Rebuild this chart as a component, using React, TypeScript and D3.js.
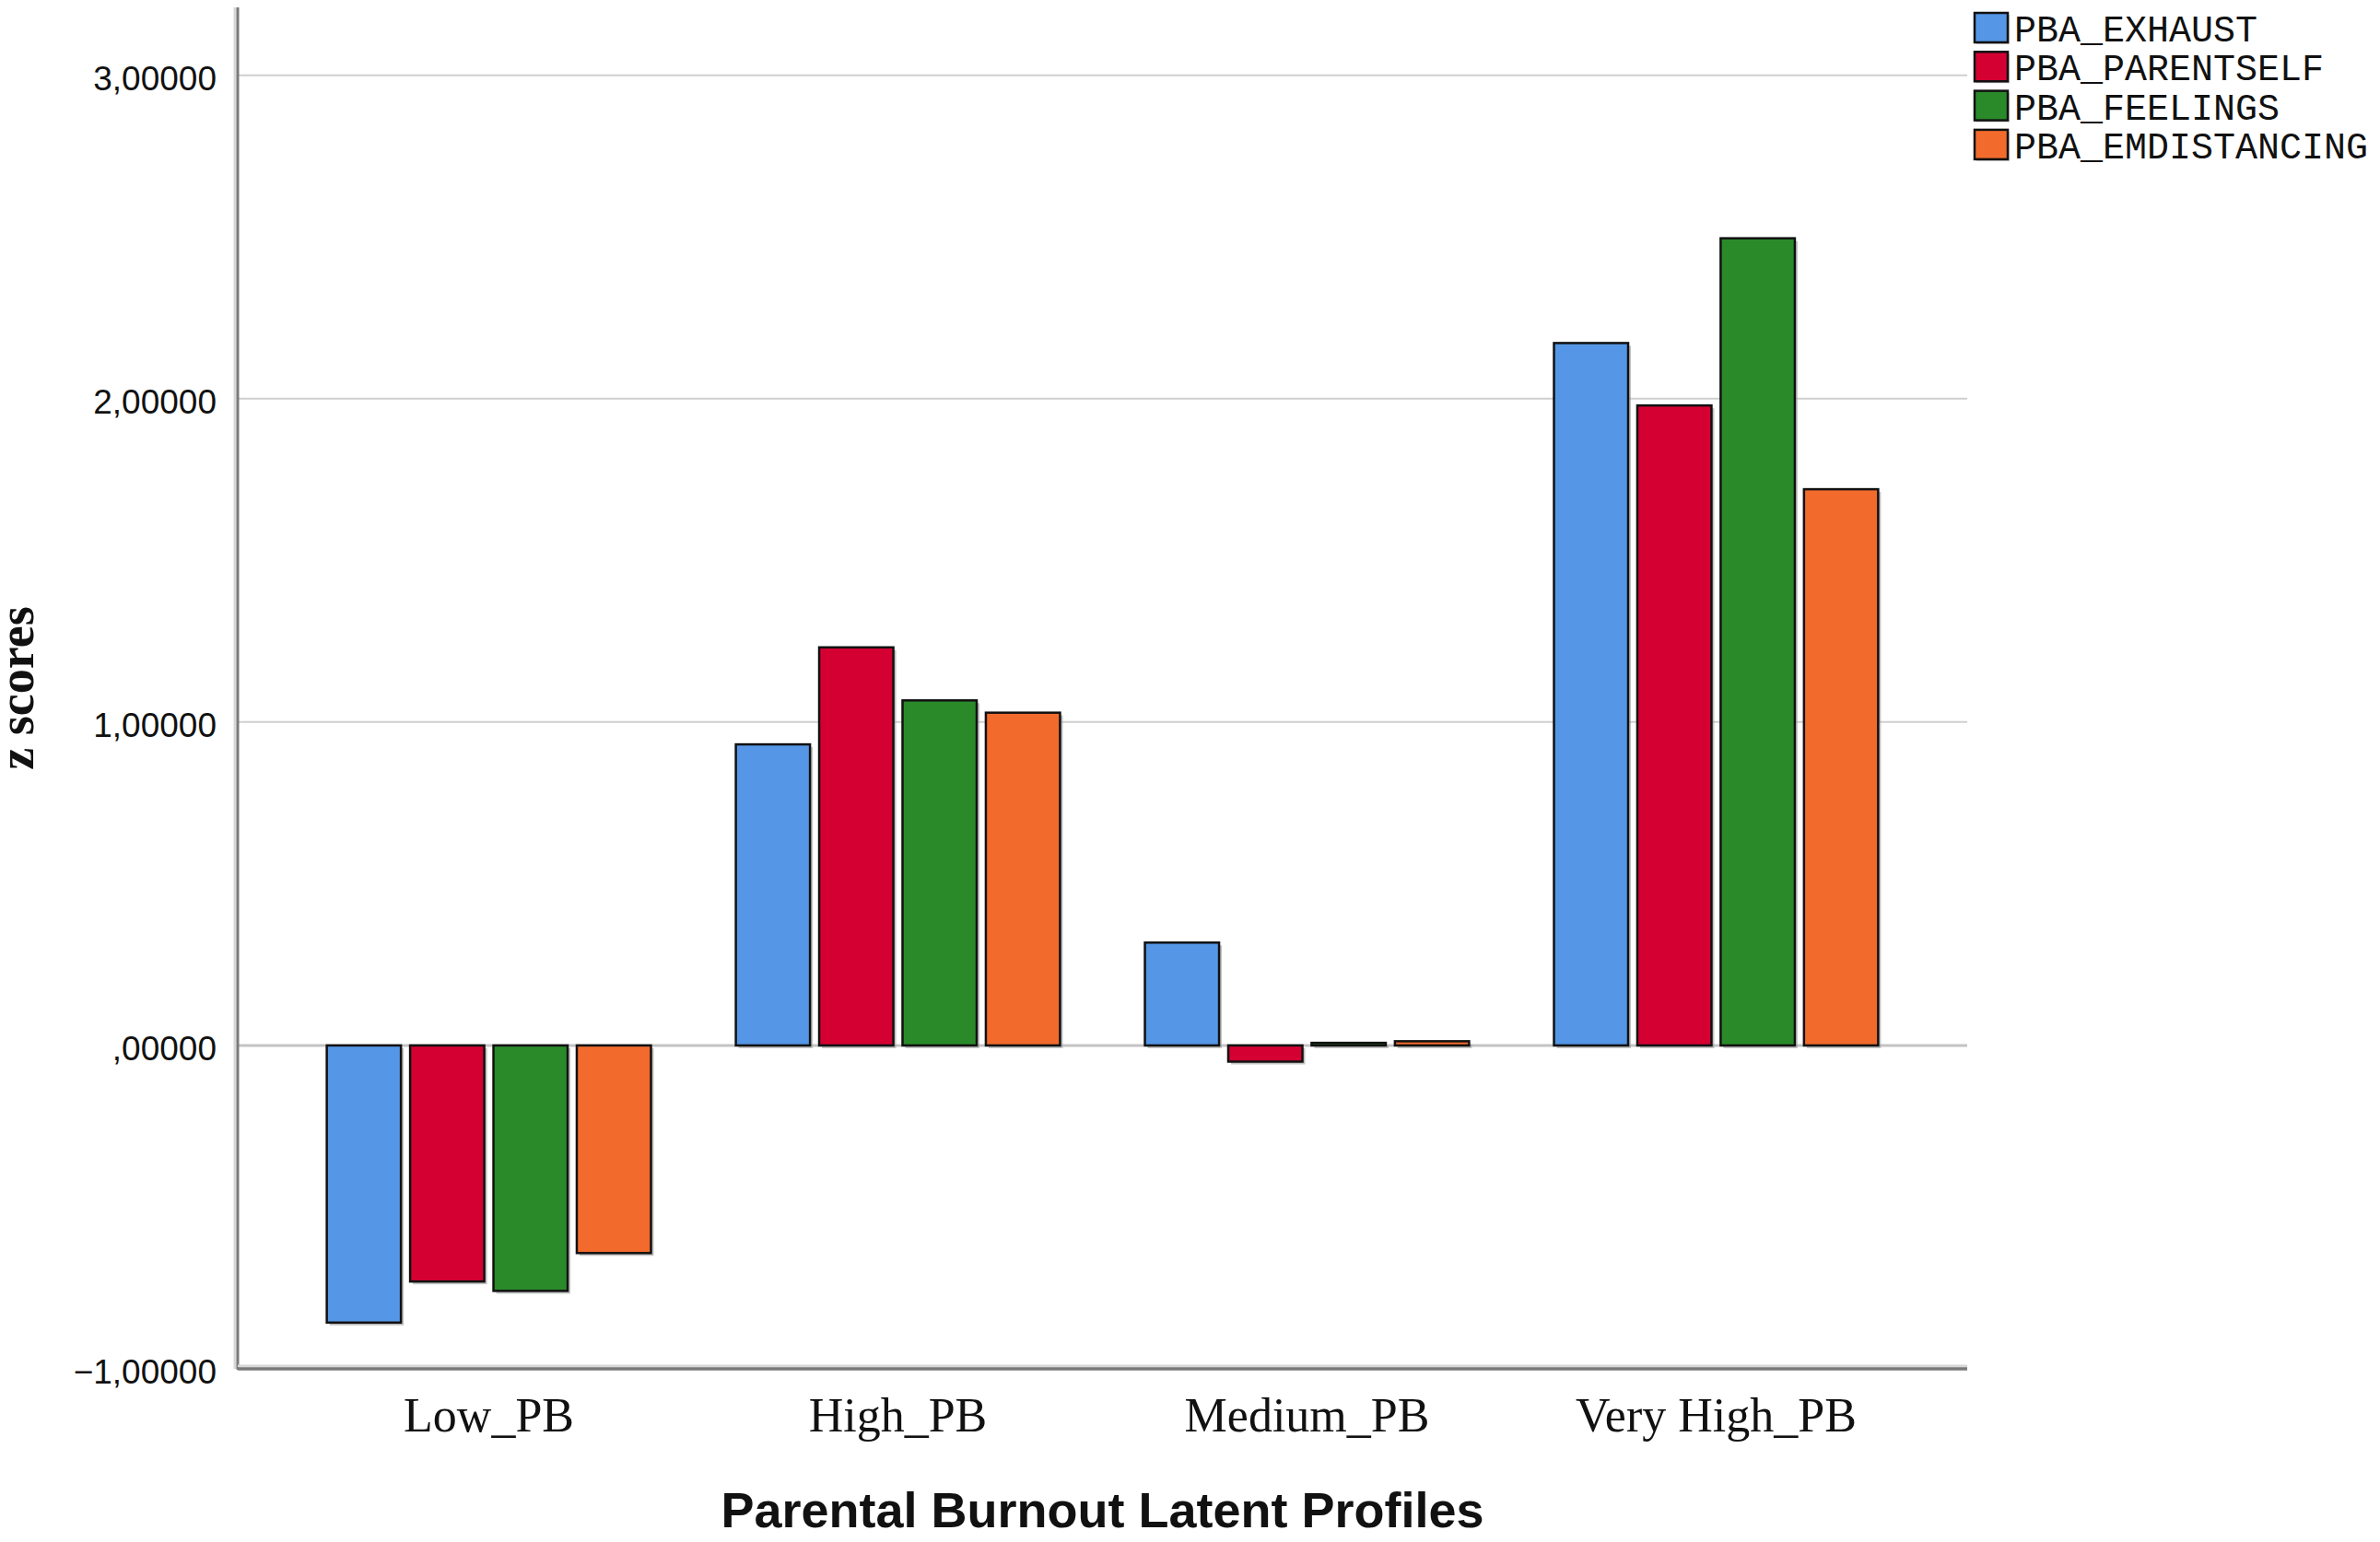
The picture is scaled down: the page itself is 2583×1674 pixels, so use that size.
import * as d3 from "d3";

const categories = ["Low_PB", "High_PB", "Medium_PB", "Very High_PB"];
const seriesNames = ["PBA_EXHAUST", "PBA_PARENTSELF", "PBA_FEELINGS", "PBA_EMDISTANCING"];
const seriesColors = ["#5596E6", "#D50032", "#2A8A2A", "#F26B2D"];

// z score per profile, one array per series (order follows categories)
const exhaust = [-0.857, 0.931, 0.318, 2.172];
const parentSelf = [-0.73, 1.231, -0.05, 1.979];
const feelings = [-0.759, 1.067, 0.008, 2.496];
const emDistancing = [-0.642, 1.029, 0.013, 1.72];

const yTicks = [-1, 0, 1, 2, 3];

const series = [exhaust, parentSelf, feelings, emDistancing];

const W = 2583;
const H = 1674;
const left = 258;
const right = 2135;
const top = 8;
const bottom = 1486;

const fmt = (v: number) => {
  const s = d3.format(".5f")(v).replace(".", ",");
  return s.replace(/^0,/, ",").replace(/^-0,/, "-,");
};

export default function App() {
  const y = d3.scaleLinear().domain([-1, 3.21]).range([bottom, top]);
  const x0 = d3
    .scaleBand<string>()
    .domain(categories)
    .range([left, right])
    .paddingInner(0.2075)
    .paddingOuter(0.2177);
  const x1 = d3
    .scaleBand<string>()
    .domain(seriesNames)
    .range([0, x0.bandwidth()])
    .paddingInner(0.11)
    .paddingOuter(0);

  const y0 = y(0);

  return (
    <svg
      width={W}
      height={H}
      style={{ position: "absolute", left: 0, top: 0, background: "#fff" }}
    >
      <rect width={W} height={H} fill="#fff" />

      {/* grid */}
      {yTicks.map((t) => (
        <line
          key={"g" + t}
          x1={left}
          x2={right}
          y1={y(t)}
          y2={y(t)}
          stroke={t === 0 ? "#c4c4c4" : "#cfcfcf"}
          strokeWidth={t === 0 ? 3 : 2}
        />
      ))}

      {/* bars */}
      {categories.map((c, ci) => (
        <g key={c} transform={`translate(${x0(c)},0)`}>
          {series.map((vals, si) => {
            const v = vals[ci];
            const bx = x1(seriesNames[si]) ?? 0;
            const by = Math.min(y(v), y0);
            const bh = Math.abs(y(v) - y0);
            return (
              <g key={si}>
                <rect
                  x={bx + 3}
                  y={by + 3}
                  width={x1.bandwidth()}
                  height={bh}
                  fill="#9a9a9a"
                  opacity={0.6}
                />
                <rect
                  x={bx}
                  y={by}
                  width={x1.bandwidth()}
                  height={bh}
                  fill={seriesColors[si]}
                  stroke="#111"
                  strokeWidth={2.5}
                />
              </g>
            );
          })}
        </g>
      ))}

      {/* axes */}
      <line x1={left - 3} x2={left - 3} y1={top} y2={bottom} stroke="#d8d8d8" strokeWidth={3} />
      <line x1={left} x2={left} y1={top} y2={bottom + 1} stroke="#7a7a7a" strokeWidth={3} />
      <line x1={left} x2={right} y1={bottom - 3} y2={bottom - 3} stroke="#d8d8d8" strokeWidth={3} />
      <line x1={left} x2={right} y1={bottom} y2={bottom} stroke="#7a7a7a" strokeWidth={3.5} />

      {/* y tick labels */}
      {yTicks.map((t) => (
        <text
          key={"t" + t}
          x={235}
          y={y(t) + 16}
          textAnchor="end"
          fontFamily="Liberation Sans, Arial, sans-serif"
          fontSize={37}
          fill="#111"
        >
          {fmt(t)}
        </text>
      ))}

      {/* category labels */}
      {categories.map((c) => (
        <text
          key={"c" + c}
          x={(x0(c) ?? 0) + x0.bandwidth() / 2}
          y={1554}
          textAnchor="middle"
          fontFamily="Liberation Serif, Times New Roman, serif"
          fontSize={52}
          fill="#111"
        >
          {c}
        </text>
      ))}

      {/* axis titles */}
      <text
        x={(left + right) / 2}
        y={1658}
        textAnchor="middle"
        fontFamily="Liberation Sans, Arial, sans-serif"
        fontWeight="bold"
        fontSize={54}
        fill="#111"
      >
        Parental Burnout Latent Profiles
      </text>
      <text
        transform={`translate(36,${(top + bottom) / 2}) rotate(-90)`}
        textAnchor="middle"
        fontFamily="Liberation Serif, Times New Roman, serif"
        fontWeight="bold"
        fontSize={54}
        fill="#111"
      >
        z scores
      </text>

      {/* legend */}
      {seriesNames.map((n, i) => (
        <g key={n} transform={`translate(2143,${14 + i * 42.3})`}>
          <rect x={2} y={2} width={36} height={32} fill="#9a9a9a" opacity={0.5} />
          <rect width={36} height={32} fill={seriesColors[i]} stroke="#111" strokeWidth={2.5} />
          <text
            x={43}
            y={31}
            fontFamily="Liberation Mono, Courier New, monospace"
            fontSize={40}
            fill="#111"
          >
            {n}
          </text>
        </g>
      ))}
    </svg>
  );
}
